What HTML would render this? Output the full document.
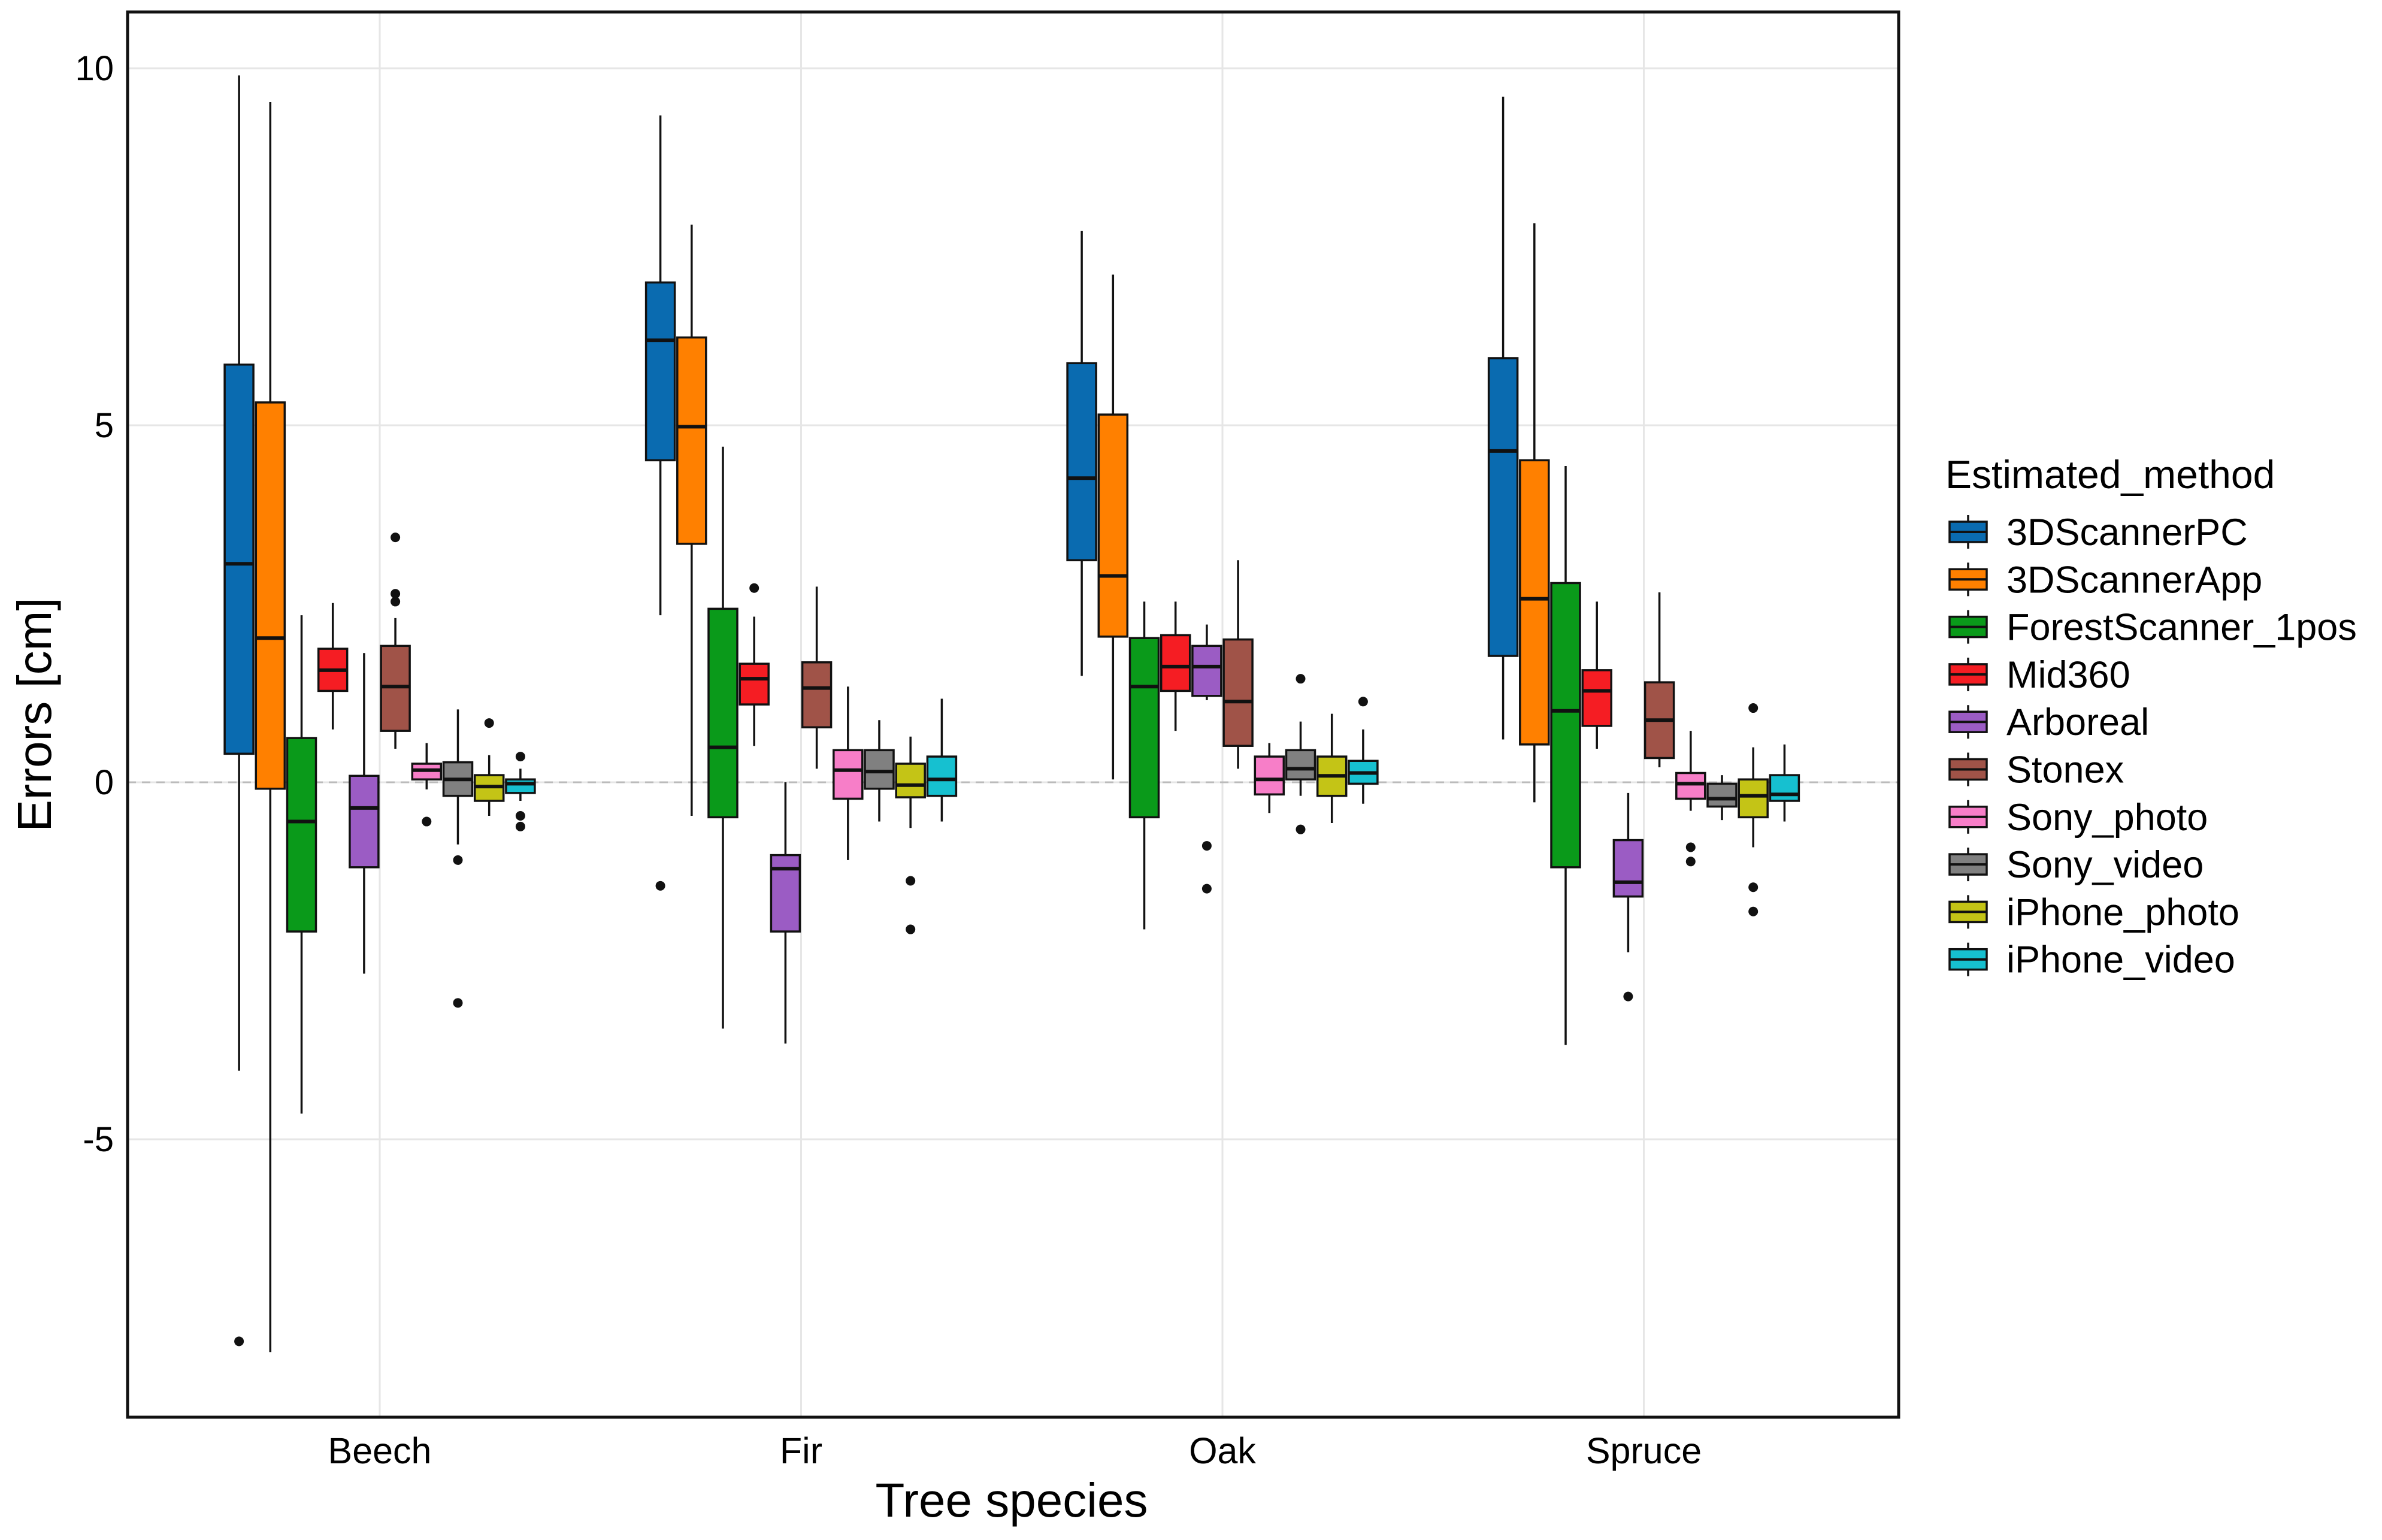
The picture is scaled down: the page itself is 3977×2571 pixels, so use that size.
<!DOCTYPE html>
<html><head><meta charset="utf-8"><style>
html,body{margin:0;padding:0;background:#fff}
svg{display:block}
text{font-family:"Liberation Sans",Arial,sans-serif;fill:#000}
</style></head><body>
<svg id="chart" xmlns="http://www.w3.org/2000/svg" width="3977" height="2571" viewBox="0 0 3977 2571">
<g id="grid"></g>
<line x1="213" x2="3170" y1="1306" y2="1306" stroke="#bbb" stroke-width="3" stroke-dasharray="14,10"/>
<g id="boxes"></g>
<rect x="213" y="20" width="2957" height="2346" fill="none" stroke="#111" stroke-width="5"/>
<g id="axes"></g>
<text transform="translate(85,1193) rotate(-90)" text-anchor="middle" font-size="80">Errors [cm]</text>
<text x="1689" y="2532" text-anchor="middle" font-size="80">Tree species</text>
<g id="legend"></g>
</svg>
<script>
const categories = ["Beech","Fir","Oak","Spruce"];
const methods = ["3DScannerPC","3DScannerApp","ForestScanner_1pos","Mid360","Arboreal","Stonex","Sony_photo","Sony_video","iPhone_photo","iPhone_video"];
const colors = ["#0a6bb0","#ff8000","#0a9a1a","#f51d23","#9b5cc4","#a05348","#f77ec8","#808080","#c4c416","#16c0d0"];
const yTicks = [-5,0,5,10];
// [low, q1, median, q3, high] per category, per method
const stats = {
 Beech:[[-4.04,0.4,3.06,5.85,9.9],[-7.98,-0.09,2.02,5.32,9.53],[-4.64,-2.09,-0.55,0.62,2.34],[0.74,1.28,1.57,1.87,2.51],[-2.68,-1.19,-0.36,0.09,1.81],[0.47,0.72,1.34,1.91,2.3],[-0.1,0.04,0.17,0.26,0.55],[-0.87,-0.19,0.04,0.28,1.02],[-0.47,-0.26,-0.06,0.1,0.38],[-0.26,-0.15,-0.02,0.04,0.19]],
 Fir:[[2.34,4.51,6.19,7.0,9.34],[-0.47,3.34,4.98,6.23,7.81],[-3.45,-0.49,0.49,2.43,4.7],[0.51,1.09,1.45,1.66,2.32],[-3.66,-2.09,-1.21,-1.02,0.0],[0.19,0.77,1.32,1.68,2.74],[-1.09,-0.23,0.17,0.45,1.34],[-0.55,-0.09,0.15,0.45,0.87],[-0.64,-0.21,-0.04,0.26,0.64],[-0.55,-0.19,0.04,0.36,1.17]],
 Oak:[[1.49,3.11,4.26,5.87,7.72],[0.04,2.04,2.89,5.15,7.11],[-2.06,-0.49,1.34,2.02,2.53],[0.72,1.28,1.62,2.06,2.53],[1.15,1.21,1.62,1.91,2.21],[0.19,0.51,1.13,2.0,3.11],[-0.43,-0.17,0.04,0.36,0.55],[-0.19,0.04,0.19,0.45,0.85],[-0.57,-0.19,0.09,0.36,0.96],[-0.3,-0.02,0.13,0.3,0.74]],
 Spruce:[[0.6,1.77,4.64,5.94,9.6],[-0.28,0.53,2.57,4.51,7.83],[-3.68,-1.19,1.0,2.79,4.43],[0.47,0.79,1.28,1.57,2.53],[-2.38,-1.6,-1.4,-0.81,-0.15],[0.21,0.34,0.87,1.4,2.66],[-0.4,-0.23,-0.02,0.13,0.72],[-0.53,-0.34,-0.23,-0.02,0.1],[-0.91,-0.49,-0.19,0.04,0.49],[-0.55,-0.26,-0.17,0.1,0.53]]
};
const outliers = {
 Beech:[[-7.83],[],[],[],[],[3.43,2.64,2.53],[-0.55],[-1.09,-3.09],[0.83],[0.36,-0.47,-0.62]],
 Fir:[[-1.45],[],[],[2.72],[],[],[],[],[-1.38,-2.06],[]],
 Oak:[[],[],[],[],[-0.89,-1.49],[],[],[1.45,-0.66],[],[1.13]],
 Spruce:[[],[],[],[],[-3.0],[],[-0.91,-1.11],[],[1.04,-1.47,-1.81],[]]
};
const NS="http://www.w3.org/2000/svg";
const L=213,R=3170,T=20,B=2366;
const y=v=>1306-v*119.2;
const xc=i=>634+i*703.5;
const slot=52.2, bw=48;
function mk(tag,attrs,parent){const e=document.createElementNS(NS,tag);for(const k in attrs)e.setAttribute(k,attrs[k]);parent.appendChild(e);return e;}
const grid=document.getElementById('grid'),boxes=document.getElementById('boxes'),axes=document.getElementById('axes'),legend=document.getElementById('legend');
yTicks.forEach(t=>{
 const g=mk('line',{x1:L,x2:R,y1:y(t),y2:y(t),stroke:'#e6e6e6','stroke-width':3},grid);
 
 
 const tx=mk('text',{x:190,y:y(t)+20,'text-anchor':'end','font-size':58,fill:'#222'},axes);
 tx.textContent=String(t);
 
 
});
categories.forEach((c,ci)=>{
 const g=mk('line',{x1:xc(ci),x2:xc(ci),y1:T,y2:B,stroke:'#e6e6e6','stroke-width':3},grid);
 
 
 const tx=mk('text',{x:xc(ci),y:2443,'text-anchor':'middle','font-size':61,fill:'#222'},axes);
 tx.textContent=c;
 
 
 methods.forEach((m,mi)=>{
  const s=stats[c][mi];
  const cx=xc(ci)+(mi-4.5)*slot;
  const grp=mk('g',{},boxes);
  
  
  mk('line',{x1:cx,x2:cx,y1:y(s[4]),y2:y(s[0]),stroke:'#111','stroke-width':3.5},grp);
  mk('rect',{x:cx-bw/2,y:y(s[3]),width:bw,height:Math.max(1,y(s[1])-y(s[3])),fill:colors[mi],stroke:'#111','stroke-width':3.5},grp);
  mk('line',{x1:cx-bw/2,x2:cx+bw/2,y1:y(s[2]),y2:y(s[2]),stroke:'#111','stroke-width':6},grp);
  outliers[c][mi].forEach(o=>{
   const d=mk('circle',{cx:cx,cy:y(o),r:8,fill:'#111'},grp);
   
   
  });
 });
});
const lt=mk('text',{x:3248,y:815,'font-size':66},legend);
lt.textContent='Estimated_method';


methods.forEach((m,mi)=>{
 const cy=888+mi*79.3;
 const e=mk('g',{},legend);
 
 
 mk('line',{x1:3286,x2:3286,y1:cy-28,y2:cy+28,stroke:'#111','stroke-width':3.5},e);
 mk('rect',{x:3255,y:cy-17,width:62,height:34,fill:colors[mi],stroke:'#111','stroke-width':3.5},e);
 mk('line',{x1:3255,x2:3317,y1:cy,y2:cy,stroke:'#111','stroke-width':4},e);
 const t=mk('text',{x:3350,y:cy+22,'font-size':63},e);
 t.textContent=m;
});
</script>
</body></html>
